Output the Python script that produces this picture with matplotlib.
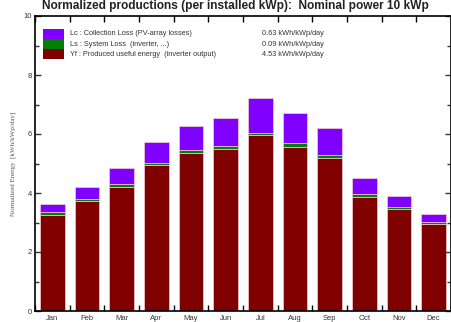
import numpy as np
import matplotlib
matplotlib.use("Agg")
import matplotlib.pyplot as plt
from matplotlib.patches import Rectangle
from matplotlib.ticker import MultipleLocator

months = ["Jan", "Feb", "Mar", "Apr", "May", "Jun",
          "Jul", "Aug", "Sep", "Oct", "Nov", "Dec"]
# kWh/kWp/day
yf = [3.25, 3.73, 4.20, 4.95, 5.35, 5.50, 5.96, 5.57, 5.18, 3.85, 3.47, 2.96]
ls = [0.09, 0.05, 0.09, 0.07, 0.10, 0.10, 0.09, 0.11, 0.10, 0.10, 0.07, 0.07]
lc = [0.29, 0.41, 0.55, 0.70, 0.83, 0.95, 1.17, 1.04, 0.93, 0.56, 0.36, 0.27]

legend_labels = ["Lc : Collection Loss (PV-array losses)",
                 "Ls : System Loss  (inverter, ...)",
                 "Yf : Produced useful energy  (inverter output)"]
legend_values = ["0.63 kWh/kWp/day", "0.09 kWh/kWp/day", "4.53 kWh/kWp/day"]

title = "Normalized productions (per installed kWp):  Nominal power 10 kWp"

c_lc = "#8000ff"
c_ls = "#008000"
c_yf = "#800000"

plt.rcParams["font.family"] = ["Liberation Sans", "DejaVu Sans"]

fig = plt.figure(figsize=(4.52, 3.22), dpi=100)
ax = fig.add_axes([35 / 452, 11 / 322, 416 / 452, 295 / 322])

x = np.arange(1, 13)
yf_a = np.array(yf)
ls_a = np.array(ls)
lc_a = np.array(lc)
w = 0.72
ax.bar(x, yf_a, w, color=c_yf, edgecolor="#f0d0d0", linewidth=0.5)
ax.bar(x, ls_a, w, bottom=yf_a, color=c_ls, edgecolor="#f0d0d0", linewidth=0.5)
ax.bar(x, lc_a, w, bottom=yf_a + ls_a, color=c_lc, edgecolor="#f0d0d0", linewidth=0.5)

ax.set_xlim(0.5, 12.5)
ax.set_ylim(0, 10)
ax.set_xticks(x)
ax.set_xticklabels(months)
ax.xaxis.set_minor_locator(MultipleLocator(1, offset=0.5))
ax.yaxis.set_major_locator(MultipleLocator(2))
ax.yaxis.set_minor_locator(MultipleLocator(1))
ax.tick_params(axis="x", which="major", length=0, labelsize=5.5, pad=3, colors="#333333")
ax.tick_params(axis="x", which="minor", direction="in", length=4, width=1, top=True, bottom=True)
ax.tick_params(axis="y", which="both", direction="in", left=True, right=True,
               labelsize=5.5, colors="#333333", pad=2)
ax.tick_params(axis="y", which="major", length=4, width=1)
ax.tick_params(axis="y", which="minor", length=3, width=1)
for s in ax.spines.values():
    s.set_linewidth(1.2)
ax.set_ylabel("Normalized Energy  [kWh/kWp/day]", fontsize=5, color="#555555",
              family=["Liberation Serif", "DejaVu Serif"], labelpad=6)

# legend block, drawn by hand as in the original
for i, (lab, val, col) in enumerate(zip(legend_labels, legend_values, [c_lc, c_ls, c_yf])):
    y0 = 0.955 - i * 0.034
    ax.add_patch(Rectangle((0.019, y0 - 0.032), 0.051, 0.032, transform=ax.transAxes,
                           facecolor=col, edgecolor="none", zorder=5))
    ax.text(0.083, y0 - 0.016, lab, transform=ax.transAxes, fontsize=5.3,
            va="center", ha="left", color="#333333")
    ax.text(0.545, y0 - 0.016, val, transform=ax.transAxes, fontsize=5.3,
            va="center", ha="left", color="#333333")

fig.text(0.52, 0.999, title, ha="center", va="top", fontsize=8.6,
         fontweight="bold", color="#222222")

fig.savefig("out.png", dpi=100)
